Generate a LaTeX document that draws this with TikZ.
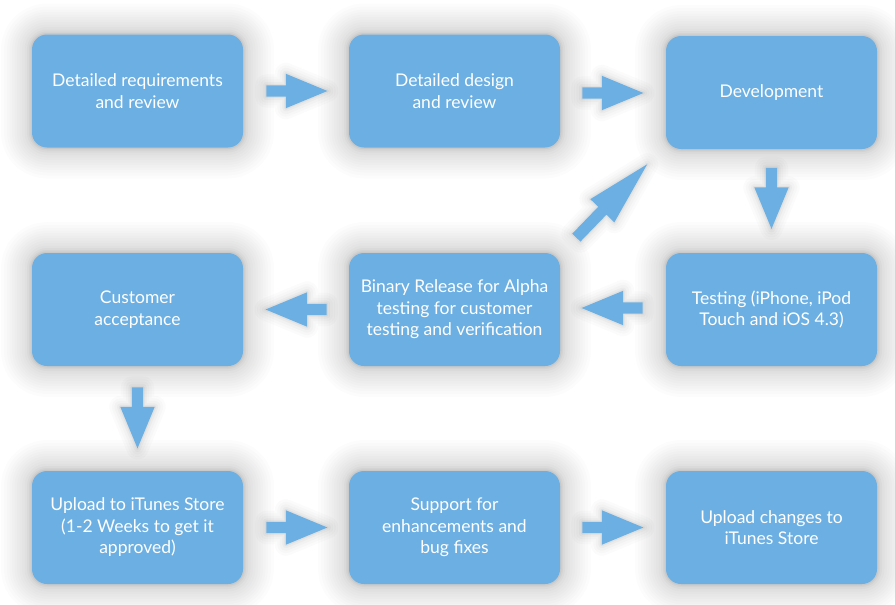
\documentclass[tikz,border=0pt]{standalone}
\usepackage{fontspec}
\setmainfont{Lato}
\usetikzlibrary{shapes.arrows,calc}
\definecolor{boxblue}{RGB}{108,175,226}
\tikzset{
  boxhalo/.style={line join=round,
    preaction={draw=black,draw opacity=0.012,line width=62pt},
    preaction={draw=black,draw opacity=0.010,line width=56pt},
    preaction={draw=black,draw opacity=0.010,line width=50pt},
    preaction={draw=black,draw opacity=0.010,line width=45pt},
    preaction={draw=black,draw opacity=0.010,line width=40pt},
    preaction={draw=black,draw opacity=0.010,line width=35pt},
    preaction={draw=black,draw opacity=0.010,line width=30pt},
    preaction={draw=black,draw opacity=0.011,line width=25pt},
    preaction={draw=black,draw opacity=0.013,line width=20pt},
    preaction={draw=black,draw opacity=0.016,line width=15pt},
    preaction={draw=black,draw opacity=0.022,line width=10pt},
    preaction={draw=black,draw opacity=0.032,line width=6pt},
    preaction={draw=black,draw opacity=0.045,line width=3pt}},
  arrowhalo/.style={line join=round,
    preaction={draw=black,draw opacity=0.014,line width=22pt},
    preaction={draw=black,draw opacity=0.016,line width=17pt},
    preaction={draw=black,draw opacity=0.020,line width=12pt},
    preaction={draw=black,draw opacity=0.028,line width=7pt},
    preaction={draw=black,draw opacity=0.040,line width=3pt}},
  stepbox/.style={boxhalo, rectangle, rounded corners=15pt, fill=boxblue,
    text=white, minimum width=211pt, minimum height=113pt, align=center,
    font=\fontsize{17.5}{21.5}\selectfont, inner sep=0pt},
  blockarrow/.style={arrowhalo, single arrow, fill=boxblue, inner xsep=0pt,
    inner ysep=5.5pt, single arrow head extend=11.5pt,
    single arrow tip angle=45, single arrow head indent=0pt,
    minimum height=61pt, anchor=tail},
  diagarrow/.style={arrowhalo, single arrow, fill=boxblue, inner xsep=0pt,
    inner ysep=5.5pt, single arrow head extend=11pt,
    single arrow tip angle=29, single arrow head indent=0pt,
    minimum height=102pt, anchor=tail}
}
\begin{document}
\begin{tikzpicture}[x=1pt,y=-1pt]
\useasboundingbox[fill=white] (0,0) rectangle (895,605);
% boxes
\node[stepbox] (b1) at (137.5,91)   {Detailed requirements\\and review};
\node[stepbox] (b2) at (454.5,91)   {Detailed design\\and review};
\node[stepbox] (b3) at (771.5,92.5) {Development};
\node[stepbox] (b4) at (771.5,309.5) {Testing (iPhone, iPod\\Touch and iOS 4.3)};
\node[stepbox] (b5) at (454.5,309.5) {Binary Release for Alpha\\testing for customer\\testing and verification};
\node[stepbox] (b6) at (137.5,309.5) {Customer\\acceptance};
\node[stepbox] (b7) at (137.5,527.5) {Upload to iTunes Store\\(1-2 Weeks to get it\\approved)};
\node[stepbox] (b8) at (454.5,527.5) {Support for\\enhancements and\\bug fixes};
\node[stepbox] (b9) at (771.5,527.5) {Upload changes to\\iTunes Store};
% arrows
\node[blockarrow] (a12) at ($(b1.east)+(23,0)$) {};
\node[blockarrow] (a23) at ($(b2.east)+(22,2)$) {};
\node[blockarrow, rotate=-90] (a34) at ($(b3.south)+(0,18.5)$) {};
\node[blockarrow, rotate=180] (a45) at ($(b4.west)+(-23,-1.5)$) {};
\node[blockarrow, rotate=180] (a56) at ($(b5.west)+(-22,0)$) {};
\node[blockarrow, rotate=-90] (a67) at ($(b6.south)+(0,21)$) {};
\node[blockarrow] (a78) at ($(b7.east)+(23,0)$) {};
\node[blockarrow] (a89) at ($(b8.east)+(22,0)$) {};
\node[diagarrow, rotate=46] (a53) at ($(b5.north east)+(16,-15)$) {};
\end{tikzpicture}
\end{document}
